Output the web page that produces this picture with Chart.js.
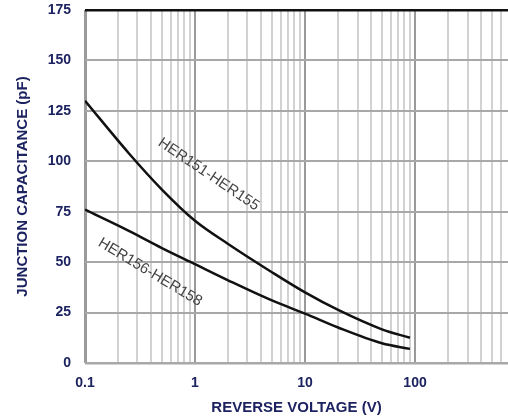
<!DOCTYPE html>
<html>
<head>
<meta charset="utf-8">
<script src="https://cdn.jsdelivr.net/npm/chart.js@4/dist/chart.umd.min.js"></script>
<style>body{margin:0;background:#fff}</style>
</head>
<body>
<canvas id="capacitance-chart" width="508" height="419"></canvas>
<script>
// reverse voltage (V) and junction capacitance (pF)
var voltage = [0.1, 0.25, 0.5, 1, 2, 5, 10, 20, 50, 90];
var her151to155 = [130, 104, 86, 70.5, 59, 45, 35, 26.3, 16.7, 12.5];
var her156to158 = [76, 65.5, 57, 49, 41, 31, 24.5, 17.6, 9.8, 7];

var xDecades = [0.1, 1, 10, 100];
var yTickValues = [0, 25, 50, 75, 100, 125, 150, 175];

// curve names, placed in data coordinates
var curveLabels = [
    {text: 'HER151-HER155', v: 1.33, c: 93.5, angle: 34},
    {text: 'HER156-HER158', v: 0.39, c: 45, angle: 31}
];

var labelColor = '#1c2360';

function toPoints(xs, ys) {
    return xs.map(function(x, i) { return {x: x, y: ys[i]}; });
}

var curveLabelPlugin = {
    id: 'curveLabels',
    afterDatasetsDraw: function(chart) {
        var ctx = chart.ctx;
        ctx.save();
        ctx.font = '15px "Liberation Sans", Arial, sans-serif';
        ctx.fillStyle = '#444';
        ctx.textAlign = 'center';
        ctx.textBaseline = 'middle';
        curveLabels.forEach(function(lbl) {
            var px = chart.scales.x.getPixelForValue(lbl.v);
            var py = chart.scales.y.getPixelForValue(lbl.c);
            ctx.save();
            ctx.translate(px, py);
            ctx.rotate(lbl.angle * Math.PI / 180);
            ctx.fillText(lbl.text, 0, 0);
            ctx.restore();
        });
        ctx.restore();
    }
};

var ctx = document.getElementById('capacitance-chart').getContext('2d');
var myChart = new Chart(ctx, {
    type: 'line',
    data: {
        datasets: [{
            label: 'HER151-HER155',
            data: toPoints(voltage, her151to155),
            borderColor: '#111',
            borderWidth: 2.5,
            pointRadius: 0,
            cubicInterpolationMode: 'monotone'
        }, {
            label: 'HER156-HER158',
            data: toPoints(voltage, her156to158),
            borderColor: '#111',
            borderWidth: 2.5,
            pointRadius: 0,
            cubicInterpolationMode: 'monotone'
        }]
    },
    options: {
        responsive: false,
        animation: false,
        layout: {padding: {top: 10, right: 0, bottom: 0, left: 0}},
        plugins: {legend: {display: false}, tooltip: {enabled: false}},
        scales: {
            x: {
                type: 'logarithmic',
                min: 0.1,
                max: 700,
                border: {display: false},
                afterBuildTicks: function(scale) {
                    var ticks = [];
                    xDecades.forEach(function(d) {
                        for (var m = 1; m <= 9; m++) {
                            var v = +(d * m).toPrecision(3);
                            if (v <= 690) ticks.push({value: v});
                        }
                    });
                    scale.ticks = ticks;
                },
                afterFit: function(scale) {
                    scale.height = 56;
                    scale.paddingLeft = 0;
                    scale.paddingRight = 0;
                },
                grid: {
                    drawTicks: false,
                    color: function(c) {
                        var v = c.tick && c.tick.value;
                        return xDecades.indexOf(v) >= 0 ? '#9a9a9a' : '#d2d2d2';
                    },
                    lineWidth: function(c) {
                        var v = c.tick && c.tick.value;
                        if (v === 0.1) return 3;
                        return 2;
                    }
                },
                ticks: {
                    autoSkip: false,
                    maxRotation: 0,
                    padding: 12,
                    color: labelColor,
                    font: {family: '"Liberation Sans", Arial', size: 14, weight: 'bold'},
                    callback: function(value) {
                        return xDecades.indexOf(value) >= 0 ? String(value) : '';
                    }
                },
                title: {
                    display: true,
                    text: 'REVERSE VOLTAGE (V)',
                    color: labelColor,
                    font: {family: '"Liberation Sans", Arial', size: 15, weight: 'bold'},
                    padding: {top: 2, bottom: 2}
                }
            },
            y: {
                min: 0,
                max: 175,
                border: {display: false},
                afterBuildTicks: function(scale) {
                    scale.ticks = yTickValues.map(function(v) { return {value: v}; });
                },
                afterFit: function(scale) {
                    scale.width = 85;
                    scale.paddingTop = 0;
                    scale.paddingBottom = 0;
                },
                grid: {
                    drawTicks: false,
                    color: function(c) {
                        return c.tick && c.tick.value === 175 ? '#111' : '#a8a8a8';
                    },
                    lineWidth: function(c) {
                        var v = c.tick && c.tick.value;
                        return (v === 175 || v === 0) ? 2.5 : 2;
                    }
                },
                ticks: {
                    padding: 14,
                    color: labelColor,
                    font: {family: '"Liberation Sans", Arial', size: 14, weight: 'bold'}
                },
                title: {
                    display: true,
                    text: 'JUNCTION CAPACITANCE (pF)',
                    color: labelColor,
                    font: {family: '"Liberation Sans", Arial', size: 15, weight: 'bold'},
                    padding: {top: 14, bottom: 0}
                }
            }
        }
    },
    plugins: [curveLabelPlugin]
});
</script>
</body>
</html>
